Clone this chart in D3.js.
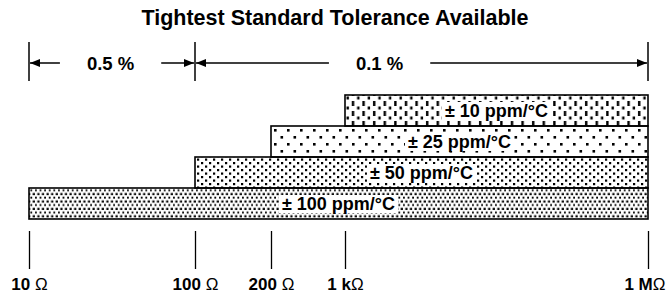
<!DOCTYPE html>
<html lang="en">
<head>
    <meta charset="UTF-8">
    <title>Tightest Standard Tolerance Available</title>
    <script src="https://d3js.org/d3.v7.min.js"></script>
    <style>
        body {
            margin: 0;
            background: #fff;
        }

        svg text {
            font-family: "Liberation Sans", Arial, sans-serif;
            font-weight: bold;
            fill: #000;
        }

        .axis text {
            font-size: 17px;
        }

        .axis line {
            stroke: #000;
            stroke-width: 1.3px;
        }

        .ohm {
            font-weight: normal;
        }
    </style>
</head>
<body>
    <svg width="666" height="295"></svg>
    <script>
        // resistance range stops shown on the bottom axis
        const tickValues = [10, 100, 200, 1000, 1000000];
        const tickLabels = ["10 Ω", "100 Ω", "200 Ω", "1 kΩ", "1 MΩ"];

        // TCR bands, top to bottom
        const tcrLabels = ["± 10 ppm/°C", "± 25 ppm/°C", "± 50 ppm/°C", "± 100 ppm/°C"];
        const tcrLow = [1000, 200, 100, 10];
        const tcrHigh = [1000000, 1000000, 1000000, 1000000];

        // tolerance ranges drawn as dimension arrows
        const tolLabels = ["0.5 %", "0.1 %"];
        const tolLow = [10, 100];
        const tolHigh = [100, 1000000];
        const tolLabelAt = [31, 2200];

        const width = 666;
        const svg = d3.select("svg");

        // not a real log axis, the stops are spaced by hand in the original
        const x = d3.scaleLinear()
            .domain(tickValues.map(Math.log10))
            .range([29, 195, 271, 345, 648]);
        const xr = v => x(Math.log10(v));

        const y = d3.scaleBand()
            .domain(tcrLabels)
            .range([95, 219])
            .paddingInner(0);

        // fill patterns
        const defs = svg.append("defs");

        const p10 = defs.append("pattern").attr("id", "p0")
            .attr("patternUnits", "userSpaceOnUse")
            .attr("width", 10.6).attr("height", 10);
        p10.append("rect").attr("x", 2).attr("y", 1).attr("width", 2.4).attr("height", 5);
        p10.append("rect").attr("x", 7.3).attr("y", 6.5).attr("width", 2.4).attr("height", 3);

        const p25 = defs.append("pattern").attr("id", "p1")
            .attr("patternUnits", "userSpaceOnUse")
            .attr("width", 13).attr("height", 14);
        p25.append("rect").attr("x", 1).attr("y", 3).attr("width", 2.6).attr("height", 2.6);
        p25.append("rect").attr("x", 7.5).attr("y", 10).attr("width", 2.6).attr("height", 2.6);

        const p50 = defs.append("pattern").attr("id", "p2")
            .attr("patternUnits", "userSpaceOnUse")
            .attr("width", 8).attr("height", 7);
        p50.append("rect").attr("x", 1).attr("y", 1).attr("width", 2.2).attr("height", 2.2);
        p50.append("rect").attr("x", 5).attr("y", 4.5).attr("width", 2.2).attr("height", 2.2);

        const p100 = defs.append("pattern").attr("id", "p3")
            .attr("patternUnits", "userSpaceOnUse")
            .attr("width", 4.6).attr("height", 7.4);
        p100.append("rect").attr("x", 0.5).attr("y", 0.6).attr("width", 2.2).attr("height", 2.2);
        p100.append("rect").attr("x", 2.8).attr("y", 4.3).attr("width", 1.9).attr("height", 1.9);

        defs.append("marker")
            .attr("id", "arrow")
            .attr("viewBox", "0 0 10 8")
            .attr("refX", 10).attr("refY", 4)
            .attr("markerWidth", 10).attr("markerHeight", 8)
            .attr("markerUnits", "userSpaceOnUse")
            .attr("orient", "auto")
            .append("path")
            .attr("d", "M0,0 L10,4 L0,8 Z")
            .attr("fill", "#000");

        // title
        svg.append("text")
            .attr("x", width / 2 + 2)
            .attr("y", 25)
            .attr("text-anchor", "middle")
            .style("font-size", "21.5px")
            .text("Tightest Standard Tolerance Available");

        // tolerance dimension lines
        const arrowY = 63;
        const edges = Array.from(new Set(tolLow.concat(tolHigh)));
        svg.selectAll(".edge")
            .data(edges)
            .enter().append("line")
            .attr("class", "edge")
            .attr("x1", d => xr(d)).attr("x2", d => xr(d))
            .attr("y1", 42).attr("y2", 81)
            .attr("stroke", "#000")
            .attr("stroke-width", 1.5);

        tolLabels.forEach((name, i) => {
            const cx = xr(tolLabelAt[i]);
            const t = svg.append("text")
                .attr("x", cx)
                .attr("y", arrowY + 6.5)
                .attr("text-anchor", "middle")
                .style("font-size", "18.5px")
                .text(name);
            const half = t.node().getBBox().width / 2 + 27;
            const x0 = xr(tolLow[i]) + 1;
            const x1 = xr(tolHigh[i]) - 1;
            svg.append("line")
                .attr("x1", cx - half).attr("x2", x0)
                .attr("y1", arrowY).attr("y2", arrowY)
                .attr("stroke", "#000").attr("stroke-width", 1.5)
                .attr("marker-end", "url(#arrow)");
            svg.append("line")
                .attr("x1", cx + half).attr("x2", x1)
                .attr("y1", arrowY).attr("y2", arrowY)
                .attr("stroke", "#000").attr("stroke-width", 1.5)
                .attr("marker-end", "url(#arrow)");
        });

        // TCR bars
        const bars = svg.selectAll(".bar")
            .data(tcrLabels)
            .enter().append("g")
            .attr("class", "bar");

        bars.append("rect")
            .attr("x", (d, i) => xr(tcrLow[i]))
            .attr("y", d => y(d))
            .attr("width", (d, i) => xr(tcrHigh[i]) - xr(tcrLow[i]))
            .attr("height", y.bandwidth())
            .attr("fill", (d, i) => `url(#p${i})`)
            .attr("stroke", "#000")
            .attr("stroke-width", 1.6);

        const barText = bars.append("text")
            .attr("x", (d, i) => (xr(tcrLow[i]) + xr(tcrHigh[i])) / 2)
            .attr("y", d => y(d) + y.bandwidth() / 2 + 6.5)
            .attr("text-anchor", "middle")
            .style("font-size", "18px")
            .text(d => d);

        barText.each(function () {
            const b = this.getBBox();
            d3.select(this.parentNode).insert("rect", "text")
                .attr("x", b.x - 3).attr("y", b.y + 1)
                .attr("width", b.width + 6).attr("height", b.height - 2)
                .attr("fill", "#fff");
        });

        // bottom axis with the resistance stops
        const axis = svg.append("g")
            .attr("class", "axis")
            .attr("transform", "translate(0,231)")
            .call(d3.axisBottom(x)
                .tickValues(tickValues.map(Math.log10))
                .tickSize(38)
                .tickFormat(""));

        axis.select(".domain").remove();

        const last = tickLabels.length - 1;
        axis.selectAll(".tick text")
            .attr("y", 59)
            .attr("dy", null)
            .attr("fill", "#000")
            .each(function (d, i) {
                const label = tickLabels[i];
                const t = d3.select(this).text(label.slice(0, -1));
                t.append("tspan").attr("class", "ohm").text(label.slice(-1));
                // keep the last label inside the right edge
                if (i === last) {
                    t.attr("text-anchor", "end").attr("x", width - 1 - x(d));
                }
            });
    </script>
</body>
</html>
